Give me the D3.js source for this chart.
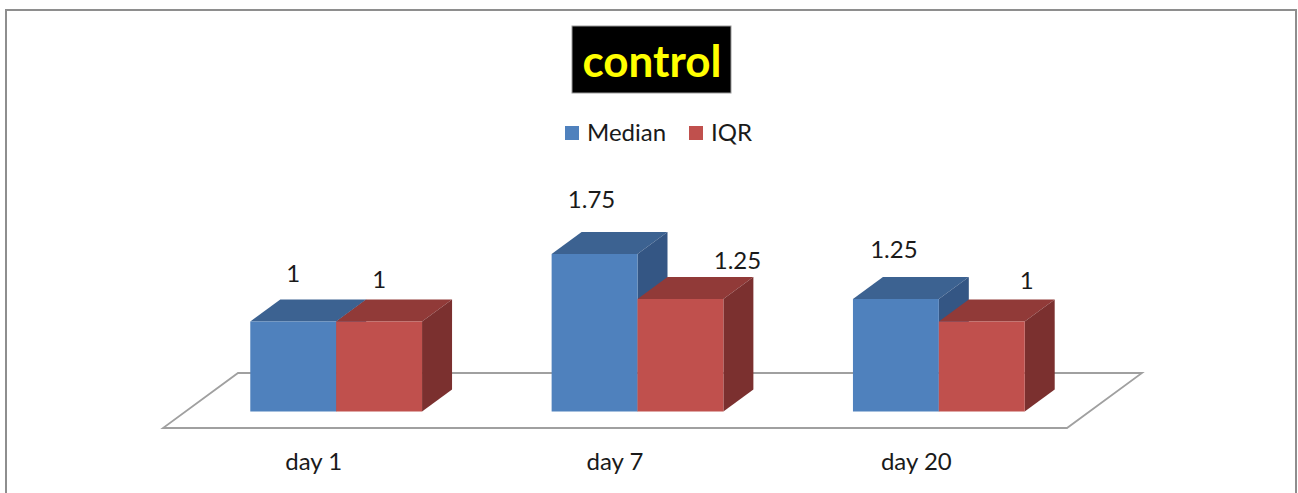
<!DOCTYPE html>
<html>
<head>
<meta charset="utf-8">
<script src="https://cdn.jsdelivr.net/npm/d3@7"></script>
<style>
  html, body { margin: 0; padding: 0; background: #fff; }
  svg { display: block; }
  text { font-family: Lato, "Open Sans", sans-serif; }
</style>
</head>
<body>
<svg id="chart" width="1298" height="493"></svg>
<script>
// Chart data
const categories = ["day 1", "day 7", "day 20"];
const seriesNames = ["Median", "IQR"];
const medianValues = [1, 1.75, 1.25];
const iqrValues = [1, 1.25, 1];
const titleText = "control";

// Per-point label nudges (px) relative to the front-top centre of each bar: [dx, dy]
const labelNudges = [
  [[0, -40], [0, -34]],
  [[-3, -46], [57, -30]],
  [[-2, -41], [45, -33]]
];

const W = 1298, H = 493;
const svg = d3.select("#chart");

const colors = {
  Median: { front: "#4f81bd", top: "#3c6291", side: "#345684" },
  IQR:    { front: "#c0504d", top: "#913a38", side: "#7b302f" }
};

// Outer chart border
svg.append("rect")
  .attr("x", 6).attr("y", 10)
  .attr("width", 1290).attr("height", 520)
  .attr("fill", "#fff")
  .attr("stroke", "#8e8e8e").attr("stroke-width", 2);

// Floor geometry: front edge and the full depth vector
const floorFrontY = 428;
const floorLeft = 163, floorRight = 1067;
const depthX = 75, depthY = -55;
const barDepthStart = 0.3, barDepthEnd = 0.7;

const xFront = d3.scaleBand()
  .domain(categories)
  .range([floorLeft, floorRight])
  .paddingInner(0.43)
  .paddingOuter(0.215);

const xSeries = d3.scaleBand()
  .domain(seriesNames)
  .range([0, xFront.bandwidth()])
  .padding(0);

const baseY = floorFrontY + depthY * barDepthStart;
const y = d3.scaleLinear().domain([0, 2]).range([baseY, baseY - 180]);

const shiftX = depthX * barDepthStart;
const bdx = depthX * (barDepthEnd - barDepthStart);
const bdy = depthY * (barDepthEnd - barDepthStart);

// Floor plane
svg.append("path")
  .attr("d", d3.line()([
    [floorLeft, floorFrontY],
    [floorRight, floorFrontY],
    [floorRight + depthX, floorFrontY + depthY],
    [floorLeft + depthX, floorFrontY + depthY]
  ]) + "Z")
  .attr("fill", "none")
  .attr("stroke", "#a0a0a0")
  .attr("stroke-width", 1.8);

// Bars
const rows = categories.map((c, i) => ({
  category: c,
  points: [
    { series: "Median", value: medianValues[i] },
    { series: "IQR", value: iqrValues[i] }
  ]
}));

const groups = svg.selectAll("g.cat")
  .data(rows)
  .join("g")
  .attr("class", "cat");

groups.each(function(row, i) {
  const g = d3.select(this);
  row.points.forEach((p, j) => {
    const x0 = xFront(row.category) + shiftX + xSeries(p.series);
    const x1 = x0 + xSeries.bandwidth();
    const yTop = y(p.value);
    const yBot = y(0);
    const col = colors[p.series];
    const bar = g.append("g");
    // top face
    bar.append("path")
      .attr("d", d3.line()([[x0, yTop], [x1, yTop], [x1 + bdx, yTop + bdy], [x0 + bdx, yTop + bdy]]) + "Z")
      .attr("fill", col.top);
    // right side face
    bar.append("path")
      .attr("d", d3.line()([[x1, yTop], [x1 + bdx, yTop + bdy], [x1 + bdx, yBot + bdy], [x1, yBot]]) + "Z")
      .attr("fill", col.side);
    // front face
    bar.append("rect")
      .attr("x", x0).attr("y", yTop)
      .attr("width", x1 - x0).attr("height", yBot - yTop)
      .attr("fill", col.front);
    // value label
    const nudge = labelNudges[i][j];
    g.append("text")
      .attr("x", (x0 + x1) / 2 + nudge[0])
      .attr("y", yTop + nudge[1])
      .attr("text-anchor", "middle")
      .attr("font-size", 24)
      .attr("fill", "#1a1a1a")
      .text(p.value);
  });
});

// Category axis along the front edge of the floor
const axis = svg.append("g")
  .attr("transform", `translate(0,${floorFrontY})`)
  .call(d3.axisBottom(xFront).tickSize(0).tickPadding(0));
axis.select(".domain").remove();
axis.selectAll("text")
  .attr("y", 41.5)
  .attr("dy", 0)
  .attr("font-size", 24)
  .attr("font-family", "Lato, sans-serif")
  .attr("fill", "#1a1a1a");

// Title box
svg.append("rect")
  .attr("x", 572).attr("y", 26)
  .attr("width", 159).attr("height", 67)
  .attr("fill", "#000")
  .attr("stroke", "#9a9a9a").attr("stroke-width", 1);
svg.append("text")
  .attr("x", 652).attr("y", 77)
  .attr("text-anchor", "middle")
  .attr("font-size", 44)
  .attr("font-weight", "bold")
  .attr("fill", "#ffff00")
  .text(titleText);

// Legend
const legendItems = [
  { name: "Median", x: 565 },
  { name: "IQR", x: 689 }
];
const legend = svg.selectAll("g.legend")
  .data(legendItems)
  .join("g")
  .attr("class", "legend")
  .attr("transform", d => `translate(${d.x},126)`);
legend.append("rect")
  .attr("width", 14).attr("height", 14)
  .attr("fill", d => colors[d.name].front);
legend.append("text")
  .attr("x", 22).attr("y", 15)
  .attr("font-size", 24)
  .attr("fill", "#1a1a1a")
  .text(d => d.name);
</script>
</body>
</html>
